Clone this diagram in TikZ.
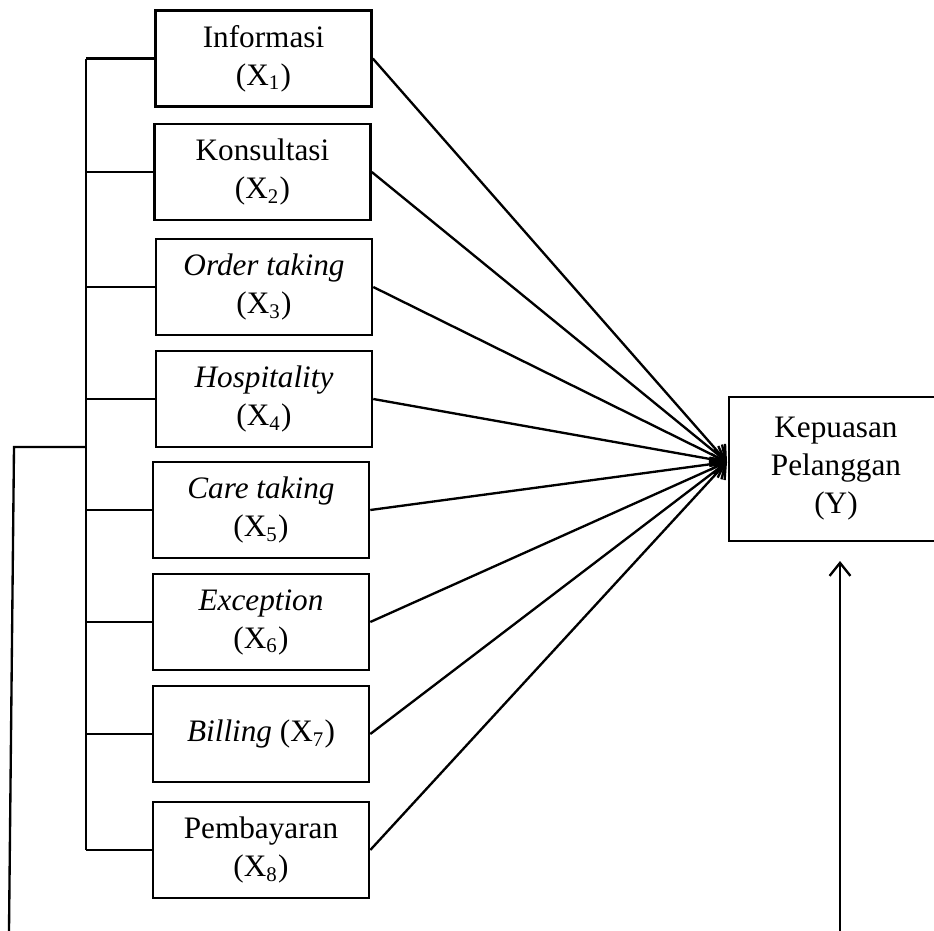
\documentclass[tikz,border=0pt]{standalone}
\usepackage{fontspec}
\setmainfont{Liberation Serif}
\usetikzlibrary{arrows.meta}

\tikzset{
  kotak/.style={draw, line width=0.9pt, minimum width=2.92cm, minimum height=1.3cm,
    inner sep=0pt, align=center, font=\fontsize{12pt}{14.6pt}\selectfont},
  garis/.style={line width=0.9pt},
  panah/.style={line width=0.9pt, -{Straight Barb[length=5pt,width=8pt]}}
}

\begin{document}
\begin{tikzpicture}[x=0.0135cm, y=-0.0135cm]
      \useasboundingbox (0,0) rectangle (934,931);
      \clip (0,0) rectangle (934,931);
      %
      % variabel bebas
      \node[kotak] (x1) at (263.5,58.5) {Informasi\\(X\textsubscript{1})};
      \node[kotak] (x2) at (262.5,172) {Konsultasi\\(X\textsubscript{2})};
      \node[kotak] (x3) at (264,287) {\textit{Order taking}\\(X\textsubscript{3})};
      \node[kotak] (x4) at (264,399) {\textit{Hospitality}\\(X\textsubscript{4})};
      \node[kotak] (x5) at (261,510) {\textit{Care taking}\\(X\textsubscript{5})};
      \node[kotak] (x6) at (261,622) {\textit{Exception}\\(X\textsubscript{6})};
      \node[kotak] (x7) at (261,734) {\textit{Billing} (X\textsubscript{7})};
      \node[kotak] (x8) at (261,850) {Pembayaran\\(X\textsubscript{8})};
      %
      % variabel terikat
      \node[kotak, minimum width=2.89cm, minimum height=1.95cm] (y) at (836,469)
        {Kepuasan\\Pelanggan\\(Y)};
      %
      \coordinate (kiri) at (86,0);
      \coordinate (tuju) at (727,462);
      \coordinate (cabang) at (86,447);
      \coordinate (sudut) at (14,447);
      \coordinate (ujungkiri) at (9,931);
      \coordinate (ujungkanan) at (840,931);
      \coordinate (panahY) at (840,561);
      %
      % garis kurung kiri
      \draw[garis] (x1.west -| kiri) -- (x8.west -| kiri);
      \foreach \i in {1,...,8}
        \draw[garis] (x\i.west) -- (x\i.west -| kiri);
      \draw[garis] (cabang) -- (sudut) -- (ujungkiri);
      %
      % panah ke Y
      \foreach \i in {1,...,8}
        \draw[panah] (x\i.east) -- (tuju);
      \draw[panah] (ujungkanan) -- (panahY);
      %
    \end{tikzpicture}
\end{document}
